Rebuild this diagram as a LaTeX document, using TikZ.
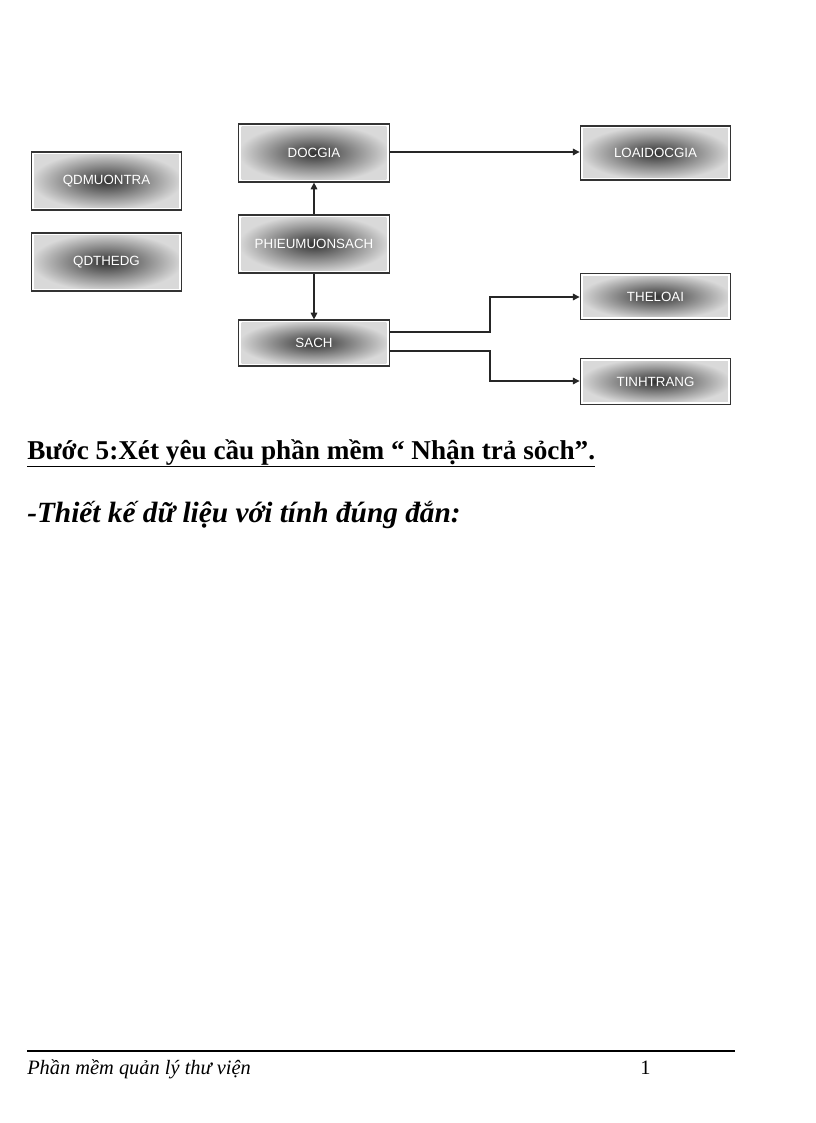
\documentclass[tikz,border=0pt]{standalone}
\usepackage{fontspec}
\setmainfont{Liberation Serif}
\newfontfamily\boxfont{Liberation Sans}
\usetikzlibrary{arrows.meta}
\begin{document}
\begin{tikzpicture}[x=0.75pt,y=-0.75pt,
  ebox/.style={draw=black!80, line width=0.9pt, fill=white, text=white,
    font=\boxfont\fontsize{10}{11}\selectfont, minimum width=113pt, inner sep=0pt,
    path picture={\shade[inner color=black!80, outer color=black!15]
      ([shift={(2.2pt,-2.2pt)}]path picture bounding box.north west) rectangle
      ([shift={(-2.2pt,2.2pt)}]path picture bounding box.south east);}},
  tall/.style={ebox, minimum height=43.5pt},
  short/.style={ebox, minimum height=34.5pt},
  conn/.style={draw=black!85, line width=0.8pt, -{Triangle[length=5pt,width=5pt]}}]
\useasboundingbox (0,0) rectangle (816,1123);
\node[tall] (qdm) at (106.5,181) {QDMUONTRA};
\node[tall] (qdt) at (106.5,262) {QDTHEDG};
\node[tall] (doc) at (314,153) {DOCGIA};
\node[tall] (phi) at (314,244) {PHIEUMUONSACH};
\node[short] (sach) at (314,343) {SACH};
\node[tall, minimum height=40.5pt] (loai) at (655.5,153) {LOAIDOCGIA};
\node[short] (the) at (655.5,296.5) {THELOAI};
\node[short] (tinh) at (655.5,381.5) {TINHTRANG};
\draw[conn] (doc.east |- 0,152) -- (loai.west |- 0,152);
\draw[conn] (phi.north) -- (doc.south);
\draw[conn] (phi.south) -- (sach.south |- sach.north);
\draw[conn] (sach.east |- 0,332) -- (490,332) -- (490,297) -- (the.west |- 0,297);
\draw[conn] (sach.east |- 0,351) -- (490,351) -- (490,381) -- (tinh.west |- 0,381);
\node[anchor=base west, font=\bfseries\fontsize{20.4}{24}\selectfont, inner sep=0pt] (h1) at (27,459)
  {\underline{Bước 5:Xét yêu cầu phần mềm “ Nhận trả sỏch”.}};
\node[anchor=base west, font=\bfseries\itshape\fontsize{22}{26}\selectfont, inner sep=0pt] (h2) at (27,522)
  {-Thiết kế dữ liệu với tính đúng đắn:};
\coordinate (fl) at (27,1051);
\coordinate (fr) at (735,1051);
\draw[line width=0.8pt] (fl) -- (fr);
\node[anchor=base west, font=\itshape\fontsize{15.3}{17}\selectfont, inner sep=0pt] (ft) at (27,1074) {Phần mềm quản lý thư viện};
\node[anchor=base west, font=\fontsize{15.3}{17}\selectfont, inner sep=0pt] (pg) at (640,1074) {1};
\end{tikzpicture}
\end{document}
